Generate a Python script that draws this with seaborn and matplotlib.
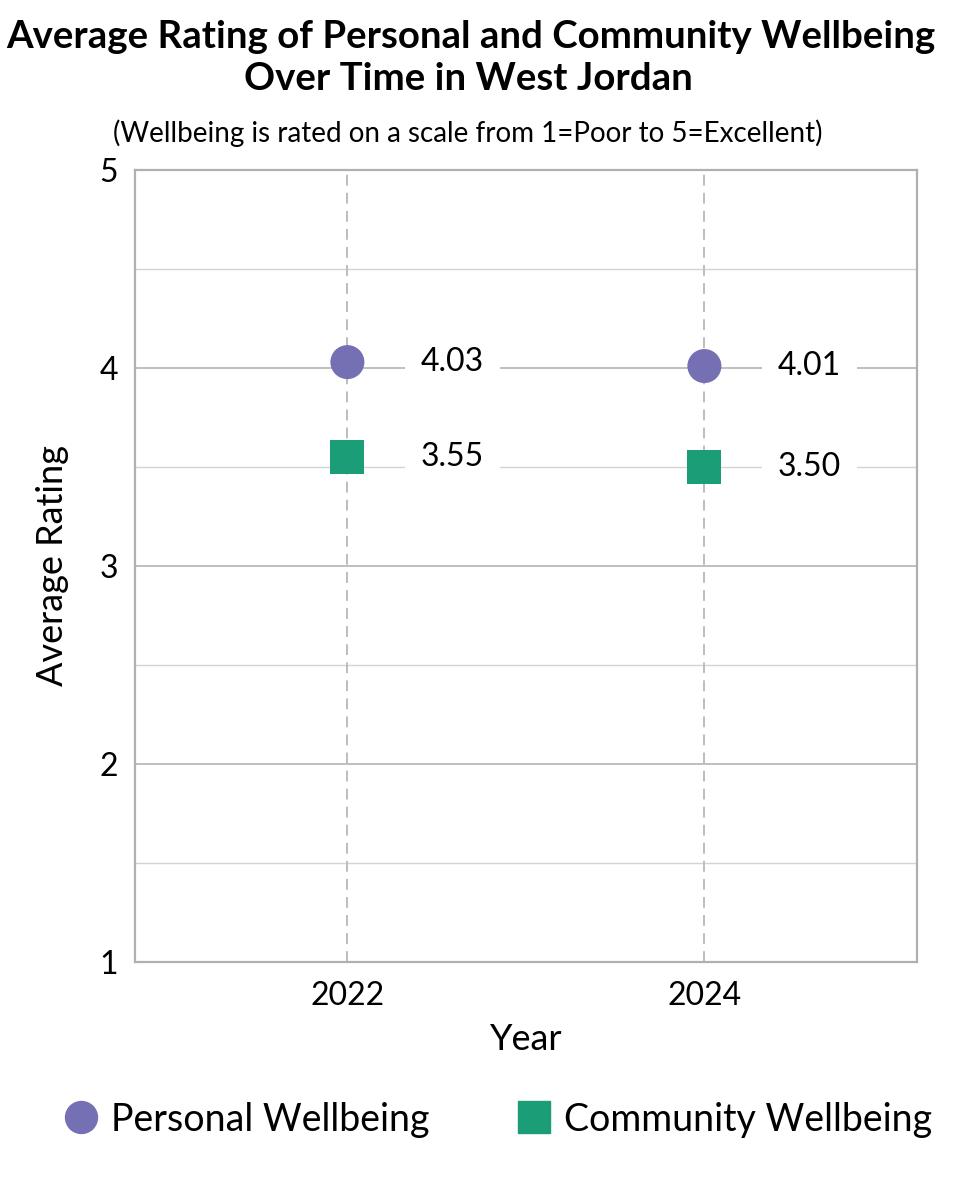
import matplotlib
matplotlib.use("Agg")
import matplotlib.pyplot as plt
import seaborn as sns
import pandas as pd

years = ["2022", "2024"]
personal = [4.03, 4.01]
community = [3.55, 3.50]
series_names = ["Personal Wellbeing", "Community Wellbeing"]
colors = {"Personal Wellbeing": "#7570b3", "Community Wellbeing": "#1b9e77"}
markers = {"Personal Wellbeing": "o", "Community Wellbeing": "s"}

df = pd.DataFrame({
    "pos": list(range(len(years))) * 2,
    "year": years * 2,
    "rating": personal + community,
    "series": [series_names[0]] * len(years) + [series_names[1]] * len(years),
})

sns.set_theme(style="white")
plt.rcParams["font.family"] = ["Lato", "DejaVu Sans"]
plt.rcParams["text.color"] = "black"
plt.rcParams["axes.labelcolor"] = "black"

fig = plt.figure(figsize=(9.6, 12), dpi=100)
ax = fig.add_axes([0.1406, 0.1983, 0.8144, 0.66])

ax.set_ylim(1, 5)
ax.set_xlim(-0.595, 1.595)
ax.set_yticks([1, 2, 3, 4, 5])
ax.set_yticks([1.5, 2.5, 3.5, 4.5], minor=True)
ax.grid(axis="y", which="major", color="#b4b4b4", linewidth=1.2, zorder=0)
ax.grid(axis="y", which="minor", color="#d4d4d4", linewidth=1.0, zorder=0)
for p in range(len(years)):
    ax.axvline(p, color="#b8b8b8", linestyle=(0, (6, 4)), linewidth=1.3, zorder=1)

sns.scatterplot(data=df, x="pos", y="rating", hue="series", style="series",
                palette=colors, markers=markers, s=600, edgecolor="none",
                ax=ax, zorder=3, legend=False)

# value labels sit in white boxes that cut the gridlines
for _, r in df.iterrows():
    ax.annotate(f"{r['rating']:.2f}", (r["pos"], r["rating"]), xytext=(53, 0),
                textcoords="offset points", ha="left", va="center", fontsize=23,
                color="black", zorder=4,
                bbox=dict(boxstyle="square,pad=0.5", fc="white", ec="none"))

ax.set_xticks(range(len(years)))
ax.set_xticklabels(years)
ax.tick_params(axis="both", labelsize=23, length=0, colors="black")
ax.tick_params(axis="y", pad=12)
ax.tick_params(axis="x", pad=14)
ax.set_xlabel("Year", fontsize=26, labelpad=8)
ax.set_ylabel("Average Rating", fontsize=26, labelpad=22)
for sp in ax.spines.values():
    sp.set_color("#b0b0b0")
    sp.set_linewidth(1.6)

fig.text(0.49, 0.969, "Average Rating of Personal and Community Wellbeing",
         ha="center", va="center", fontsize=27.6, fontweight="bold")
fig.text(0.488, 0.934, "Over Time in West Jordan",
         ha="center", va="center", fontsize=27.6, fontweight="bold")
fig.text(0.487, 0.889, "(Wellbeing is rated on a scale from 1=Poor to 5=Excellent)",
         ha="center", va="center", fontsize=20)

handles = [plt.Line2D([], [], marker=markers[n], color=colors[n], linestyle="none",
                      markersize=23) for n in series_names]
fig.legend(handles, series_names, loc="center", bbox_to_anchor=(0.518, 0.067),
           ncol=2, frameon=False, fontsize=27, handlelength=1.0,
           handletextpad=0.3, columnspacing=2.3)

fig.savefig("out.png", dpi=100)
